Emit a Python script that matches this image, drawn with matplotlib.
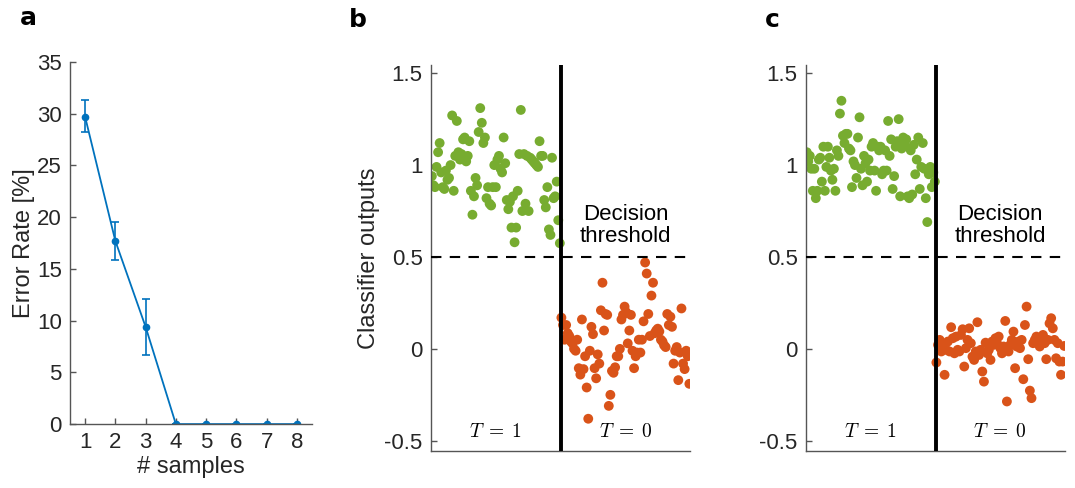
import numpy as np
import matplotlib
matplotlib.use("Agg")
import matplotlib.pyplot as plt

plt.rcParams['font.family'] = ['Liberation Sans', 'DejaVu Sans']
plt.rcParams['mathtext.fontset'] = 'cm'

# panel a: error rate vs number of samples
n_samples = [1, 2, 3, 4, 5, 6, 7, 8]
err_rate = [29.7, 17.7, 9.4, 0, 0, 0, 0, 0]
err_lo = [1.5, 1.8, 2.7, 0, 0, 0, 0, 0]
err_hi = [1.6, 1.8, 2.7, 0, 0, 0, 0, 0]

# panel b: classifier outputs (green: T=1, orange: T=0)
b_pos = [0.94, 0.89, 0.88, 0.99, 1.07, 1.12, 0.96, 0.88, 0.87, 0.97,
         0.92, 0.93, 1.00, 1.27, 0.86, 1.05, 1.24, 1.07, 1.03, 1.06,
         1.14, 1.15, 1.02, 1.05, 1.13, 0.86, 0.73, 0.83, 0.93, 0.89,
         1.18, 1.31, 1.23, 1.12, 1.15, 0.82, 0.88, 0.79, 0.78, 0.88,
         1.00, 0.88, 1.03, 1.05, 0.98, 0.96, 1.15, 1.01, 0.81, 0.76,
         0.80, 0.66, 0.83, 0.58, 0.66, 0.86, 1.06, 1.30, 0.75, 1.06,
         0.79, 1.05, 0.75, 1.04, 1.03, 1.02, 1.01, 1.00, 0.99, 1.13,
         1.05, 1.05, 0.81, 0.77, 0.88, 0.65, 0.62, 1.04, 0.82, 0.83,
         0.91, 0.70, 0.575]
b_neg = [0.17, 0.13, 0.05, 0.13, 0.085, 0.07, 0.04, 0.03, 0.00, -0.01,
         0.05, -0.105, -0.14, 0.16, -0.11, -0.04, -0.21, -0.38, -0.01, 0.12,
         0.08, -0.105, -0.16, -0.03, -0.08, 0.21, 0.36, 0.10, 0.19, 0.185,
         -0.31, -0.25, -0.12, -0.13, -0.10, -0.04, -0.04, 0.00, 0.16, 0.185,
         0.23, 0.20, 0.03, 0.10, 0.185, -0.01, -0.105, -0.04, -0.02, 0.05,
         -0.02, 0.05, 0.15, 0.47, 0.41, 0.19, 0.07, 0.29, 0.36, 0.085,
         0.10, 0.11, 0.095, 0.05, 0.04, 0.02, 0.01, 0.19, 0.13, 0.175,
         0.12, -0.08, -0.01, 0.01, -0.17, -0.02, 0.22, -0.08, -0.11, -0.01,
         -0.04, -0.19]

# panel c: classifier outputs after training
c_pos = [1.07, 1.02, 1.05, 0.98, 0.86, 0.98, 0.82, 0.86, 1.03, 1.04,
         0.91, 1.10, 0.86, 0.99, 1.10, 1.04, 0.97, 0.92, 0.98, 0.86,
         1.08, 1.05, 1.28, 1.35, 1.16, 1.12, 1.17, 1.17, 1.09, 1.08,
         0.88, 1.02, 1.00, 0.93, 1.15, 1.26, 0.98, 0.89, 1.05, 1.01,
         0.91, 1.03, 0.97, 1.10, 1.12, 0.97, 0.86, 1.10, 1.08, 1.10,
         0.95, 0.97, 1.08, 0.97, 1.24, 1.05, 1.14, 0.87, 0.94, 1.10,
         1.13, 1.25, 0.83, 1.09, 1.15, 1.11, 1.14, 0.83, 0.82, 1.08,
         0.84, 1.11, 0.95, 1.03, 1.15, 0.87, 0.99, 1.12, 0.98, 0.82,
         0.69, 0.95, 0.99, 0.88, 0.96, 0.91]
c_neg = [-0.074, 0.022, 0.049, -0.014, 0.013, -0.141, -0.005, 0.040, -0.014, 0.118,
         0.058, -0.024, 0.067, -0.005, -0.014, 0.076, 0.107, -0.096, 0.004, 0.049,
         0.112, 0.031, -0.042, -0.060, -0.014, 0.145, -0.033, -0.005, -0.123, -0.178,
         0.034, -0.024, -0.005, -0.060, 0.040, 0.022, 0.058, 0.031, 0.067, 0.004,
         -0.024, 0.013, 0.152, -0.286, -0.014, 0.022, 0.049, 0.094, -0.105, 0.013,
         0.040, 0.004, 0.049, -0.165, 0.130, 0.230, -0.056, -0.227, -0.268, 0.031,
         0.049, 0.067, 0.031, 0.013, 0.058, 0.076, 0.031, -0.056, 0.049, 0.139,
         0.167, 0.112, 0.049, -0.051, 0.031, -0.069, -0.141, -0.069, 0.016]

threshold = 0.5
blue = '#0072BD'
green = '#77AC30'
orange = '#D95319'
axcol = '#262626'

fig = plt.figure(figsize=(10.75, 4.88), dpi=100)


def style(ax):
    for s in ['top', 'right']:
        ax.spines[s].set_visible(False)
    for s in ['left', 'bottom']:
        ax.spines[s].set_color('#555555')
        ax.spines[s].set_linewidth(1.0)
    ax.tick_params(direction='in', length=4, width=1.0, color='#555555',
                   labelcolor=axcol, labelsize=16, pad=6)


# ---- a ----
ax = fig.add_axes([0.0651, 0.131, 0.2251, 0.742])
ax.errorbar(n_samples, err_rate, yerr=[err_lo, err_hi], color=blue, lw=1.3,
            marker='o', ms=4.5, capsize=3, capthick=1.2, elinewidth=1.2)
ax.set_xlim(0.5, 8.5)
ax.set_ylim(0, 35)
ax.set_xticks(n_samples)
ax.set_yticks(np.arange(0, 36, 5))
ax.set_xlabel('# samples', fontsize=17, color=axcol, labelpad=2)
ax.set_ylabel('Error Rate [%]', fontsize=17, color=axcol, labelpad=1)
style(ax)
fig.text(0.026, 0.963, 'a', fontsize=18, fontweight='bold', family='DejaVu Sans',
         ha='center', va='center')


def scatter_panel(rect, pos, neg, label, lx, ylabel=None):
    ax = fig.add_axes(rect)
    xp = (np.arange(len(pos)) + 0.5) / len(pos)
    xn = 1 + (np.arange(len(neg)) + 0.5) / len(neg)
    ax.scatter(xp, pos, s=50, color=green, edgecolors='none', zorder=2)
    ax.scatter(xn, neg, s=50, color=orange, edgecolors='none', zorder=2)
    ax.set_xlim(0, 2)
    ax.set_ylim(-0.555, 1.545)
    ax.axvline(1, color='black', lw=2.8, zorder=3)
    ax.axhline(threshold, color='black', lw=1.5, ls=(0, (5, 4)), zorder=3)
    ax.set_xticks([])
    ax.set_yticks([-0.5, 0, 0.5, 1, 1.5])
    ax.set_yticklabels(['-0.5', '0', '0.5', '1', '1.5'])
    ax.text(1.5, 0.67, 'Decision\nthreshold', fontsize=16, ha='center', va='center',
            linespacing=1.05, color='black')
    ax.text(0.5, -0.45, r'$T\;=\;1$', fontsize=14, ha='center', va='center')
    ax.text(1.5, -0.45, r'$T\;=\;0$', fontsize=14, ha='center', va='center')
    if ylabel:
        ax.set_ylabel(ylabel, fontsize=17, color=axcol, labelpad=3)
    style(ax)
    fig.text(lx, 0.958, label, fontsize=18, fontweight='bold',
             family='DejaVu Sans', ha='center', va='center')
    return ax


scatter_panel([0.401, 0.076, 0.241, 0.791], b_pos, b_neg, 'b', 0.333, 'Classifier outputs')
scatter_panel([0.7498, 0.076, 0.241, 0.791], c_pos, c_neg, 'c', 0.718)

fig.savefig('out.png', dpi=100)
